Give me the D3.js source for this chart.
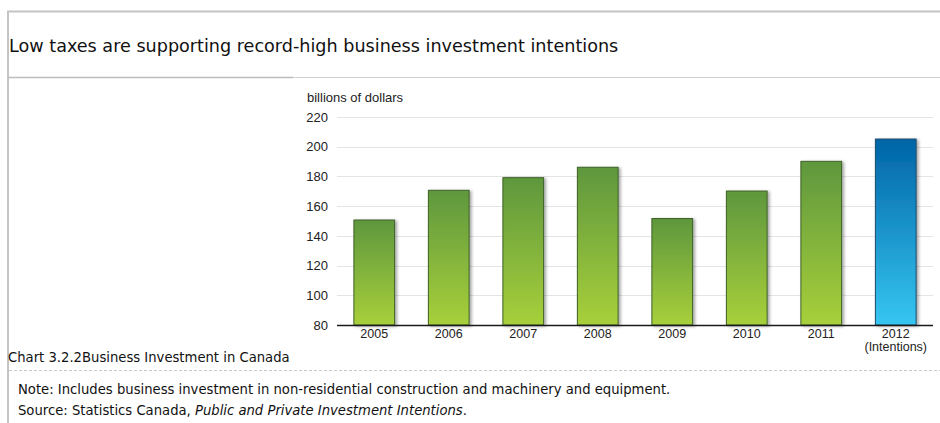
<!DOCTYPE html>
<html>
<head>
<meta charset="utf-8">
<script src="https://cdn.jsdelivr.net/npm/d3@7"></script>
<style>
  body { margin: 0; background: #fff; }
  svg { display: block; }
</style>
</head>
<body>
<svg id="chart"></svg>
<script>
// data
var years = ["2005", "2006", "2007", "2008", "2009", "2010", "2011", "2012"];
var subLabels = ["", "", "", "", "", "", "", "(Intentions)"];
var values = [151, 171, 179.5, 186.5, 152, 170.5, 190.5, 205.5];
var yTicks = [80, 100, 120, 140, 160, 180, 200, 220];

var title = "Low taxes are supporting record-high business investment intentions";
var caption = "Chart 3.2.2Business Investment in Canada";
var note = "Note: Includes business investment in non-residential construction and machinery and equipment.";
var sourceLead = "Source: Statistics Canada, ";
var sourceTitle = "Public and Private Investment Intentions";

var outerWidth = 940;
var outerHeight = 423;
var svg = d3.select("#chart").attr("width", outerWidth).attr("height", outerHeight);

var pageFont = "Verdana, 'DejaVu Sans', sans-serif";
var chartFont = "Helvetica, Arial, 'Liberation Sans', sans-serif";

// page frame
svg.append("line").attr("x1", 7).attr("x2", outerWidth).attr("y1", 11.5).attr("y2", 11.5)
  .style("stroke", "#c4c4c4").style("stroke-width", 2);
svg.append("line").attr("x1", 8).attr("x2", 8).attr("y1", 11).attr("y2", outerHeight)
  .style("stroke", "#c4c4c4").style("stroke-width", 2);
svg.append("line").attr("x1", 8).attr("x2", outerWidth).attr("y1", 77.5).attr("y2", 77.5)
  .style("stroke", "#d0d0d0").style("stroke-width", 1);
svg.append("line").attr("x1", 8).attr("x2", 293).attr("y1", 77.5).attr("y2", 77.5)
  .style("stroke", "#bcbcbc").style("stroke-width", 1.5);
svg.append("line").attr("x1", 9).attr("x2", outerWidth).attr("y1", 370.5).attr("y2", 370.5)
  .style("stroke", "#c8c8c8").style("stroke-width", 1).style("stroke-dasharray", "3,2");

svg.append("text").attr("x", 9).attr("y", 52)
  .style("font-family", pageFont).style("font-size", "17.6px").style("fill", "#111")
  .text(title);

svg.append("text").attr("x", 8).attr("y", 362)
  .style("font-family", pageFont).style("font-size", "13.2px").style("fill", "#111")
  .text(caption);
svg.append("text").attr("x", 18).attr("y", 394)
  .style("font-family", pageFont).style("font-size", "13.2px").style("fill", "#111")
  .text(note);
var src = svg.append("text").attr("x", 18).attr("y", 415)
  .style("font-family", pageFont).style("font-size", "13.2px").style("fill", "#111");
src.append("tspan").text(sourceLead);
src.append("tspan").style("font-style", "italic").text(sourceTitle);
src.append("tspan").text(".");

// chart
var margin = { left: 337, right: 7, top: 117, bottom: 98 };
var width = outerWidth - margin.left - margin.right;
var height = outerHeight - margin.top - margin.bottom;

var x = d3.scaleBand().domain(years).range([0, width]).paddingInner(0.44).paddingOuter(0.22);
var y = d3.scaleLinear().domain([80, 220]).range([height, 0]);

var defs = svg.append("defs");
function grad(id, top, bottom) {
  var g = defs.append("linearGradient").attr("id", id)
    .attr("x1", "0%").attr("y1", "0%").attr("x2", "0%").attr("y2", "100%");
  g.append("stop").attr("offset", "0%").attr("stop-color", top);
  g.append("stop").attr("offset", "100%").attr("stop-color", bottom);
}
grad("green", "#5e973d", "#a8d03a");
grad("blue", "#0064a6", "#36c6f1");
var f = defs.append("filter").attr("id", "shadow")
  .attr("x", "-20%").attr("y", "-10%").attr("width", "150%").attr("height", "130%");
f.append("feDropShadow").attr("dx", 2).attr("dy", 1).attr("stdDeviation", 1.5)
  .attr("flood-color", "#000").attr("flood-opacity", 0.35);

var cg = svg.append("g").attr("transform", "translate(" + margin.left + "," + margin.top + ")");

svg.append("text").attr("x", 307).attr("y", 102)
  .style("font-family", chartFont).style("font-size", "13px").style("fill", "#222")
  .text("billions of dollars");

// grid
cg.selectAll(".grid").data(yTicks.filter((d) => d > 80)).enter().append("line")
  .attr("class", "grid")
  .attr("x1", 0).attr("x2", width)
  .attr("y1", (d) => Math.round(y(d)) + 0.5).attr("y2", (d) => Math.round(y(d)) + 0.5)
  .style("stroke", "#e4e4e4").style("stroke-width", 1.2);

// y axis
var yAxis = d3.axisLeft(y).tickValues(yTicks).tickSize(0).tickPadding(9);
var yg = cg.append("g").call(yAxis);
yg.select(".domain").remove();
yg.selectAll("text").style("font-family", chartFont).style("font-size", "13px").style("fill", "#222");

// bars
cg.selectAll(".bar").data(values).enter().append("rect")
  .attr("class", "bar")
  .attr("x", (d, i) => x(years[i]) + 0.5)
  .attr("y", (d) => y(d) + 0.5)
  .attr("width", x.bandwidth() - 1)
  .attr("height", (d) => height - y(d) - 0.5)
  .attr("fill", (d, i) => (i == years.length - 1 ? "url(#blue)" : "url(#green)"))
  .style("stroke", (d, i) => (i == years.length - 1 ? "#1c4b6c" : "#3f6128"))
  .style("stroke-width", 1)
  .attr("filter", "url(#shadow)");

// x axis line
cg.append("line").attr("x1", 0).attr("x2", width).attr("y1", height + 0.5).attr("y2", height + 0.5)
  .style("stroke", "#1a1a1a").style("stroke-width", 1.6);

cg.selectAll(".xl").data(years).enter().append("text")
  .attr("class", "xl")
  .attr("x", (d) => x(d) + x.bandwidth() / 2)
  .attr("y", height + 13)
  .style("text-anchor", "middle")
  .style("font-family", chartFont).style("font-size", "12.5px").style("fill", "#222")
  .text((d) => d);
cg.selectAll(".xl2").data(subLabels).enter().append("text")
  .attr("class", "xl2")
  .attr("x", (d, i) => x(years[i]) + x.bandwidth() / 2)
  .attr("y", height + 26)
  .style("text-anchor", "middle")
  .style("font-family", chartFont).style("font-size", "12.5px").style("fill", "#222")
  .text((d) => d);
</script>
</body>
</html>
